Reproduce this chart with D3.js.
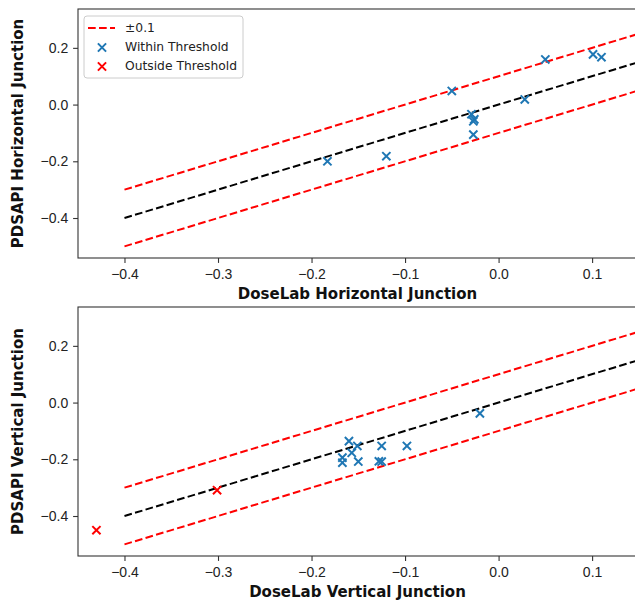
<!DOCTYPE html>
<html>
<head>
<meta charset="utf-8">
<script src="https://cdn.jsdelivr.net/npm/d3@7"></script>
<style>
  body { margin: 0; background: #fff; }
  svg { display: block; font-family: "DejaVu Sans", sans-serif; }
</style>
</head>
<body>
<svg id="chart" width="635" height="602"></svg>
<script>
// identity line and +/-0.1 threshold band
var lineX = [-0.4, 0.2];
var threshold = 0.1;

// horizontal junction (all within threshold)
var horizX = [-0.183, -0.12, -0.05, -0.029, -0.026, -0.027, -0.027, 0.028, 0.050, 0.101, 0.110];
var horizY = [-0.200, -0.182, 0.048, -0.034, -0.052, -0.059, -0.106, 0.018, 0.159, 0.177, 0.167];

// vertical junction
var vertInX = [-0.020, -0.098, -0.125, -0.128, -0.125, -0.151, -0.150, -0.160, -0.157, -0.167, -0.167];
var vertInY = [-0.038, -0.153, -0.153, -0.207, -0.208, -0.153, -0.208, -0.136, -0.177, -0.194, -0.212];
var vertOutX = [-0.301, -0.430];
var vertOutY = [-0.309, -0.450];

var xTicks = [-0.4, -0.3, -0.2, -0.1, 0.0, 0.1];
var yTicks = [-0.4, -0.2, 0.0, 0.2];

var panels = [
  { top: 9, xLabel: 'DoseLab Horizontal Junction', yLabel: 'PDSAPI Horizontal Junction',
    inX: horizX, inY: horizY, outX: [], outY: [], legend: true },
  { top: 307, xLabel: 'DoseLab Vertical Junction', yLabel: 'PDSAPI Vertical Junction',
    inX: vertInX, inY: vertInY, outX: vertOutX, outY: vertOutY, legend: false }
];

var svg = d3.select('#chart'),
    left = 78, right = 637, plotH = 249,
    blue = '#1f77b4', red = '#ff0000',
    fmt = function(v) { return d3.format('.1f')(v).replace('-', '\u2212'); };

var x = d3.scaleLinear().domain([-0.4497, 0.148]).range([left, right]);

function drawX(g, cx, cy, color) {
  var h = 4.1;
  g.append('path')
    .attr('d', 'M' + (cx - h) + ',' + (cy - h) + 'L' + (cx + h) + ',' + (cy + h) +
               'M' + (cx - h) + ',' + (cy + h) + 'L' + (cx + h) + ',' + (cy - h))
    .style('stroke', color)
    .style('stroke-width', 2)
    .style('fill', 'none');
}

panels.forEach(function(p, i) {
  var y = d3.scaleLinear().domain([-0.541, 0.337]).range([p.top + plotH, p.top]);
  var g = svg.append('g');

  g.append('clipPath').attr('id', 'clip' + i)
    .append('rect')
      .attr('x', left).attr('y', p.top)
      .attr('width', right - left).attr('height', plotH);

  var plot = g.append('g').attr('clip-path', 'url(#clip' + i + ')');
  var line = d3.line()
    .x(function(d) { return x(d[0]); })
    .y(function(d) { return y(d[1]); });

  // threshold lines, then identity
  [threshold, -threshold].forEach(function(off) {
    plot.append('path')
      .datum(lineX.map(function(v) { return [v, v + off]; }))
      .attr('d', line)
      .style('fill', 'none')
      .style('stroke', red)
      .style('stroke-width', 2)
      .style('stroke-dasharray', '7.7,3.3');
  });
  plot.append('path')
    .datum(lineX.map(function(v) { return [v, v]; }))
    .attr('d', line)
    .style('fill', 'none')
    .style('stroke', '#000')
    .style('stroke-width', 2)
    .style('stroke-dasharray', '7.7,3.3');

  p.inX.forEach(function(v, j) { drawX(plot, x(v), y(p.inY[j]), blue); });
  p.outX.forEach(function(v, j) { drawX(plot, x(v), y(p.outY[j]), red); });

  // spines
  var bottom = p.top + plotH;
  g.append('rect')
    .attr('x', left).attr('y', p.top)
    .attr('width', right - left).attr('height', plotH)
    .style('fill', 'none')
    .style('stroke', '#333')
    .style('stroke-width', 1.1);

  // x axis ticks
  var xg = g.append('g').attr('transform', 'translate(0,' + bottom + ')')
    .call(d3.axisBottom(x).tickValues(xTicks).tickSize(4.9).tickPadding(6.5).tickFormat(fmt));
  xg.select('.domain').remove();
  xg.selectAll('line').style('stroke', '#333').style('stroke-width', 1.1);
  xg.selectAll('text').style('font-size', '14px').style('fill', '#222');

  var yg = g.append('g').attr('transform', 'translate(' + left + ',0)')
    .call(d3.axisLeft(y).tickValues(yTicks).tickSize(4.9).tickPadding(4.9).tickFormat(fmt));
  yg.select('.domain').remove();
  yg.selectAll('line').style('stroke', '#333').style('stroke-width', 1.1);
  yg.selectAll('text').style('font-size', '14px').style('fill', '#222');

  // axis labels
  g.append('text')
    .attr('x', (left + right) / 2).attr('y', bottom + 41)
    .attr('text-anchor', 'middle')
    .style('font-size', '15px').style('font-weight', 'bold').style('fill', '#111')
    .text(p.xLabel);
  g.append('text')
    .attr('transform', 'translate(23,' + (p.top + plotH / 2) + ') rotate(-90)')
    .attr('text-anchor', 'middle')
    .style('font-size', '15px').style('font-weight', 'bold').style('fill', '#111')
    .text(p.yLabel);

  if (p.legend) {
    var lg = g.append('g');
    lg.append('rect')
      .attr('x', 84).attr('y', 16).attr('width', 159).attr('height', 62).attr('rx', 3)
      .style('fill', '#fff').style('fill-opacity', 0.8)
      .style('stroke', '#ccc').style('stroke-width', 1);
    lg.append('line')
      .attr('x1', 88).attr('x2', 115).attr('y1', 28).attr('y2', 28)
      .style('stroke', red).style('stroke-width', 2).style('stroke-dasharray', '7.7,3.3');
    drawX(lg, 102, 47.5, blue);
    drawX(lg, 102, 66.5, red);
    var items = ['\u00b10.1', 'Within Threshold', 'Outside Threshold'];
    items.forEach(function(t, k) {
      lg.append('text')
        .attr('x', 125).attr('y', 32 + k * 19)
        .style('font-size', '12.3px').style('fill', '#222')
        .text(t);
    });
  }
});
</script>
</body>
</html>
